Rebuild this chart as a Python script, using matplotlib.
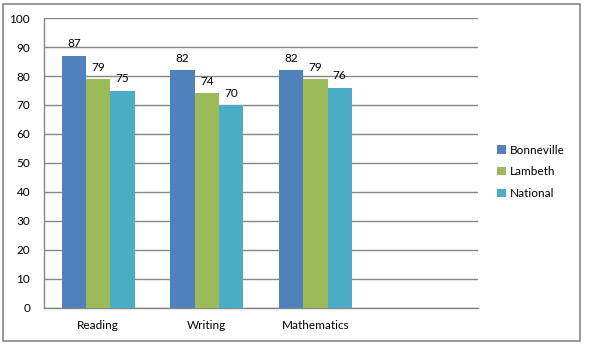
import matplotlib.pyplot as plt
from matplotlib.patches import Rectangle
import numpy as np

plt.rcParams['font.family'] = ['Lato', 'DejaVu Sans']

categories = ['Reading', 'Writing', 'Mathematics', '']
series_names = ['Bonneville', 'Lambeth', 'National']
bonneville = [87, 82, 82]
lambeth = [79, 74, 79]
national = [75, 70, 76]
colors = ['#4F81BD', '#9BBB59', '#4BACC6']

fig = plt.figure(figsize=(5.93, 3.53), dpi=100)
fig.patches.append(Rectangle((0.005, 0.034), 0.973, 0.954, transform=fig.transFigure,
                             fill=False, edgecolor='#868686', linewidth=1.2))
ax = fig.add_axes([0.0742, 0.1275, 0.732, 0.8215])

# 4 category slots, last one empty
x = np.arange(len(categories))
w = 0.225
for i, (name, vals) in enumerate(zip(series_names, [bonneville, lambeth, national])):
    pos = x[:len(vals)] + (i - 1) * w
    bars = ax.bar(pos, vals, width=w, color=colors[i], label=name, zorder=3)
    for b, v in zip(bars, vals):
        ax.text(b.get_x() + b.get_width() / 2, v + 2.2, str(v), ha='center', va='bottom',
                fontsize=8.5, color='black')

ax.set_xlim(-0.5, len(categories) - 0.5)
ax.set_ylim(0, 100)
ax.set_yticks(range(0, 101, 10))
ax.set_xticks(x[:3])
ax.set_xticklabels(categories[:3], fontsize=8.5)
ax.tick_params(axis='y', labelsize=8.5, length=0, pad=10)
ax.tick_params(axis='x', length=0, pad=9)
ax.grid(axis='y', color='#868686', linewidth=1, zorder=0)
ax.set_axisbelow(True)
for s in ['top', 'right']:
    ax.spines[s].set_visible(False)
for s in ['left', 'bottom']:
    ax.spines[s].set_color('#868686')
    ax.spines[s].set_linewidth(1)

ax.legend(loc='center left', bbox_to_anchor=(1.02, 0.47), frameon=False, fontsize=8.5,
          handlelength=0.7, handleheight=0.7, handletextpad=0.4, labelspacing=0.9)

fig.savefig('out.png', dpi=100)
